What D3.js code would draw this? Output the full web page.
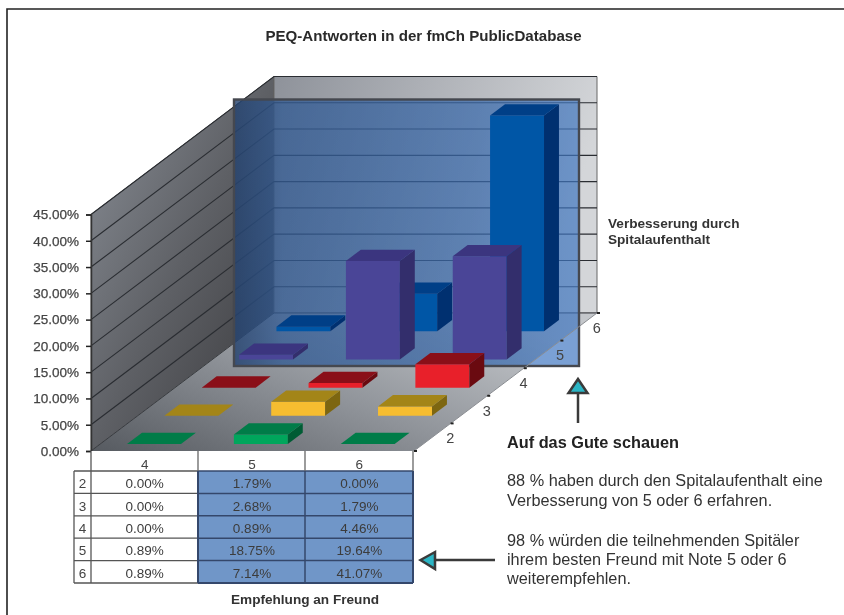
<!DOCTYPE html>
<html><head><meta charset="utf-8">
<script src="https://cdn.jsdelivr.net/npm/d3@7"></script>
<style>
html,body{margin:0;padding:0;background:#fff}
svg{display:block;filter:blur(0.35px)}
text{font-family:"Liberation Sans",Arial,sans-serif}
</style></head><body>
<svg id="c" width="844" height="615"></svg>
<script>
const title = "PEQ-Antworten in der fmCh PublicDatabase";
const cols = ["4","5","6"];
const rows = ["2","3","4","5","6"];
const row2 = [0.00,1.79,0.00];
const row3 = [0.00,2.68,1.79];
const row4 = [0.00,0.89,4.46];
const row5 = [0.89,18.75,19.64];
const row6 = [0.89,7.14,41.07];
const valueRows = [row2,row3,row4,row5,row6];
const yTicks = [0,5,10,15,20,25,30,35,40,45];
const depthTitle = ["Verbesserung durch","Spitalaufenthalt"];
const colTitle = "Empfehlung an Freund";
const heading = "Auf das Gute schauen";
const para1 = ["88 % haben durch den Spitalaufenthalt eine","Verbesserung von 5 oder 6 erfahren."];
const para2 = ["98 % würden die teilnehmenden Spitäler","ihrem besten Freund mit Note 5 oder 6","weiterempfehlen."];
const palette = [
 {front:"#00a65c",top:"#007c48",side:"#005c34"},
 {front:"#f6bd30",top:"#a38518",side:"#7d6610"},
 {front:"#e8202a",top:"#8a0f18",side:"#6a0a10"},
 {front:"#4a4597",top:"#3b357f",side:"#332e6c"},
 {front:"#0056a6",top:"#003f87",side:"#003070"}
];

const svg = d3.select("#c");
const defs = svg.append("defs");
function grad(id,x1,y1,x2,y2,stops){
  const g=defs.append("linearGradient").attr("id",id).attr("x1",x1).attr("y1",y1).attr("x2",x2).attr("y2",y2);
  stops.forEach(s=>{const e=g.append("stop").attr("offset",s[0]).attr("stop-color",s[1]); if(s[2]!==undefined)e.attr("stop-opacity",s[2]);});
}
grad("gLeft",0,0,1,1,[[0,"#8b9098"],[0.5,"#5e6065"],[1,"#37373a"]]);
grad("gBack",0,0,1,0.25,[[0,"#8e929a"],[1,"#d4d6d9"]]);
grad("gFloor",0,1,1,0.3,[[0,"#565a60"],[0.5,"#8f9399"],[1,"#c4c7cb"]]);
grad("gShade",0,0,1,0,[[0,"#0a1020",0.42],[0.14,"#0a1020",0.22],[0.7,"#0a1020",0.1],[1,"#0a1020",0.0]]);

// frame
svg.append("path").attr("d","M844,9H7V615").attr("fill","none").attr("stroke","#222").attr("stroke-width",1.6);

// scales: X along the categories, Z into the depth, Y is the value
const X = d3.scaleBand().domain(cols).range([0,321]).paddingInner(0.495).paddingOuter(0.25);
const Z = d3.scaleBand().domain(rows).range([0,138]).paddingInner(0.6).paddingOuter(0.25);
const Zt = d3.scalePoint().domain(rows).range([0,110.4]);
const Y = d3.scaleLinear().domain([0,45]).range([451,214.5]);
const skewX = 183/138;
const px = (x,z)=>91+x+z*skewX;
const py = (v,z)=>Y(v)-z;
const pts = a=>a.map(p=>[px(p[0],p[1]),py(p[2],p[1])].join(",")).join(" ");
const W=323,D=138,H=45;

// walls and floor
svg.append("polygon").attr("points",pts([[0,0,0],[0,0,H],[0,D,H],[0,D,0]])).attr("fill","url(#gLeft)").attr("stroke","#555");
svg.append("polygon").attr("points",pts([[0,D,0],[0,D,H],[W,D,H],[W,D,0]])).attr("fill","url(#gBack)").attr("stroke","#666");
svg.append("polygon").attr("points",pts([[0,0,0],[0,D,0],[W,D,0],[W,0,0]])).attr("fill","url(#gFloor)");

// gridlines
const gl = svg.append("g").attr("fill","none").attr("stroke","#2a2d32").attr("stroke-width",1.1);
yTicks.slice(1).forEach(t=>{
  gl.append("polyline").attr("points",pts([[0,0,t],[0,D,t],[W,D,t]]));
});
svg.append("polyline").attr("points",pts([[0,0,0],[0,D,0],[W,D,0]])).attr("fill","none").attr("stroke","#3a3d42");

// value axis
const axisY = d3.axisLeft(Y).tickValues(yTicks).tickFormat(d=>d3.format(".2f")(d)+"%").tickSize(5).tickPadding(7);
const ag = svg.append("g").attr("transform","translate(91,0)").call(axisY);
ag.select(".domain").attr("stroke","#333").attr("stroke-width",1.5);
ag.selectAll(".tick line").attr("stroke","#222").attr("stroke-width",1.5);
ag.selectAll("text").attr("font-size",13.5).attr("fill","#444").attr("font-weight","normal").style("font-family","'Liberation Sans',Arial,sans-serif").attr("stroke","#444").attr("stroke-width",0.25);

// overlay
const ox=234,oy=99.5,ow=345,oh=266.5;
svg.append("rect").attr("x",ox).attr("y",oy).attr("width",ow).attr("height",oh).attr("fill","rgb(65,119,193)").attr("fill-opacity",0.7);
svg.append("rect").attr("x",ox).attr("y",oy).attr("width",ow).attr("height",oh).attr("fill","url(#gShade)");
// overlay corner lying on the white page
const edgeY = 451-(ox+ow-414)/skewX, edgeX = 414+(451-(oy+oh))*skewX;
svg.append("polygon").attr("points",[[ox+ow,oy+oh],[ox+ow,edgeY],[edgeX,oy+oh]].map(String).join(" ")).attr("fill","#7aa0d4");
svg.append("rect").attr("x",ox).attr("y",oy).attr("width",ow).attr("height",oh).attr("fill","none").attr("stroke","#45484f").attr("stroke-width",2.4);

// depth axis
const deps = svg.append("g");
deps.append("line").attr("x1",px(W,0)).attr("y1",py(0,0)).attr("x2",px(W,D)).attr("y2",py(0,D)).attr("stroke","#8a8d92");
deps.append("line").attr("x1",px(W,0)).attr("y1",py(0,0)).attr("x2",px(W,0)+3).attr("y2",py(0,0)).attr("stroke","#222").attr("stroke-width",2);
rows.forEach(r=>{
  const z=Zt(r)+27.6;
  deps.append("line").attr("x1",px(W,z)).attr("y1",py(0,z)).attr("x2",px(W,z)+3).attr("y2",py(0,z)).attr("stroke","#222").attr("stroke-width",2);
  deps.append("text").attr("x",px(W,z-13.8)+18).attr("y",py(0,z-13.8)+6).attr("text-anchor","middle").attr("font-size",14.5).attr("fill","#444").text(r);
});

// bars, back to front
for(let ri=rows.length-1;ri>=0;ri--){
  const r=rows[ri], c=palette[ri];
  cols.forEach((cat,ci)=>{
    const v=valueRows[ri][ci];
    const x0=X(cat),x1=x0+X.bandwidth(),z0=Z(r),z1=z0+Z.bandwidth();
    const g=svg.append("g");
    if(v>0){
      g.append("polygon").attr("points",pts([[x0,z0,0],[x1,z0,0],[x1,z0,v],[x0,z0,v]])).attr("fill",c.front);
      g.append("polygon").attr("points",pts([[x1,z0,0],[x1,z1,0],[x1,z1,v],[x1,z0,v]])).attr("fill",c.side);
    }
    g.append("polygon").attr("points",pts([[x0,z0,v],[x1,z0,v],[x1,z1,v],[x0,z1,v]])).attr("fill",c.top);
  });
}

// table
const colX = d3.scalePoint().domain(d3.range(4)).range([91,413]);
const rowY = d3.scaleBand().domain(rows).range([471,583]);
const tb = svg.append("g");
tb.append("rect").attr("x",91).attr("y",451).attr("width",322).attr("height",132).attr("fill","#fff");
tb.append("rect").attr("x",colX(1)).attr("y",rowY.range()[0]).attr("width",colX(3)-colX(1)).attr("height",112).attr("fill","#7096c8");
const ln=(x1,y1,x2,y2,s,w)=>tb.append("line").attr("x1",x1).attr("y1",y1).attr("x2",x2).attr("y2",y2).attr("stroke",s).attr("stroke-width",w);
rows.forEach(r=>{ln(74,rowY(r),198,rowY(r),"#555",1.3);ln(198,rowY(r),413,rowY(r),"#34476b",1.5);});
ln(74,583,198,583,"#555",1.3);ln(198,583,413,583,"#34476b",2);
ln(74,471,74,583,"#555",1.3);ln(91,451,91,583,"#555",1.3);
ln(198,451,198,471,"#666",1.3);ln(305,451,305,471,"#666",1.3);ln(413,451,413,471,"#666",1.3);
ln(198,471,198,583,"#34476b",2);ln(305,471,305,583,"#34476b",1.5);ln(413,471,413,583,"#34476b",2);
cols.forEach((c,i)=>{
  const cx=(colX(i)+colX(i+1))/2;
  tb.append("text").attr("x",cx).attr("y",469).attr("text-anchor","middle").attr("font-size",13.5).attr("fill","#444").text(c);
  rows.forEach((r,ri)=>{
    tb.append("text").attr("x",cx).attr("y",rowY(r)+rowY.bandwidth()/2+6).attr("text-anchor","middle").attr("font-size",13.5).attr("fill","#3c3c3c")
      .text(d3.format(".2f")(valueRows[ri][i])+"%");
  });
});
rows.forEach(r=>tb.append("text").attr("x",82.5).attr("y",rowY(r)+rowY.bandwidth()/2+6).attr("text-anchor","middle").attr("font-size",13.5).attr("fill","#444").text(r));

// texts
const T=(x,y,s,size,bold,anchor,fill)=>svg.append("text").attr("x",x).attr("y",y).attr("font-size",size).attr("font-weight",bold?"bold":"normal").attr("text-anchor",anchor||"start").attr("fill",fill||"#333").text(s);
T(423.5,41,title,15.1,true,"middle","#2a2a2a");
T(608,228,depthTitle[0],13.6,true);
T(608,244,depthTitle[1],13.6,true);
T(305,604,colTitle,13.6,true,"middle");
T(507,448,heading,16.3,true,"start","#222");
T(507,486,para1[0],16.3);T(507,506,para1[1],16.3);
T(507,546,para2[0],16.3);T(507,565,para2[1],16.3);T(507,584,para2[2],16.3);

// arrows
const ar = svg.append("g").attr("stroke","#3a3a3a").attr("stroke-width",2.5);
ar.append("line").attr("x1",578).attr("y1",423).attr("x2",578).attr("y2",393);
ar.append("polygon").attr("points","578,379 568.5,393 587.5,393").attr("fill","#2bb5c4");
ar.append("line").attr("x1",495).attr("y1",560).attr("x2",435).attr("y2",560);
ar.append("polygon").attr("points","420.5,560 435,552 435,569").attr("fill","#2bb5c4");
</script></body></html>
